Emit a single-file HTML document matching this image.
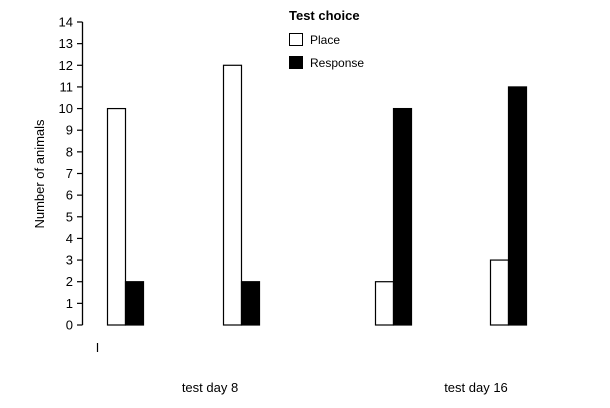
<!DOCTYPE html>
<html><head><meta charset="utf-8"><style>
body{margin:0;background:#fff;}
svg{display:block;font-family:"Liberation Sans",Arial,sans-serif;}
</style></head><body>
<svg width="610" height="408" viewBox="0 0 610 408">
<g id="axis"></g>
<g id="bars"></g>
<text x="44" y="174" font-size="13" text-anchor="middle" transform="rotate(-90 44 174)">Number of animals</text>
<line x1="97.5" y1="343" x2="97.5" y2="352" stroke="#000" stroke-width="1.2"/>
<text x="210" y="392" font-size="13" text-anchor="middle">test day 8</text>
<text x="476" y="392" font-size="13" text-anchor="middle">test day 16</text>
<g>
<text x="289" y="20" font-size="13" font-weight="bold">Test choice</text>
<rect x="289.5" y="33.5" width="13" height="12" fill="#fff" stroke="#000"/>
<text x="310" y="44" font-size="12">Place</text>
<rect x="289.5" y="56.5" width="13" height="12" fill="#000" stroke="#000"/>
<text x="310" y="67" font-size="12">Response</text>
</g>
</svg>
<script>
const categories=["day8-a","day8-b","day16-a","day16-b"];
const placeValues=[10,12,2,3];
const responseValues=[2,2,10,11];
const yTicks=[0,1,2,3,4,5,6,7,8,9,10,11,12,13,14];
const ns="http://www.w3.org/2000/svg";
const y0=325,y14=22;
function yScale(v){return y0-(y0-y14)*v/14;}
const groupX=[107,223,375,490];
const barW=18;
const ax=document.getElementById('axis');
function mk(t,a,p){const e=document.createElementNS(ns,t);for(const k in a)e.setAttribute(k,a[k]);p.appendChild(e);return e;}
const al=mk('line',{x1:82.5,y1:yScale(14),x2:82.5,y2:yScale(0),stroke:'#000','stroke-width':1.3},ax);


yTicks.forEach(v=>{
 const y=yScale(v);
 const tk=mk('line',{x1:77,y1:y,x2:82.5,y2:y,stroke:'#000','stroke-width':1.2},ax);
 
 
 const tx=mk('text',{x:73,y:y+4.5,'font-size':13,'text-anchor':'end'},ax);
 tx.textContent=v;
 
 
});
const bg=document.getElementById('bars');
categories.forEach((c,i)=>{
 const x=groupX[i];
 const p=mk('rect',{x:x+0.5,y:yScale(placeValues[i]),width:barW,height:yScale(0)-yScale(placeValues[i]),fill:'#fff',stroke:'#000','stroke-width':1.2},bg);
 
 
 const r=mk('rect',{x:x+barW+0.5,y:yScale(responseValues[i]),width:barW,height:yScale(0)-yScale(responseValues[i]),fill:'#000',stroke:'#000','stroke-width':1.2},bg);
 
 
});
</script>
</body></html>
